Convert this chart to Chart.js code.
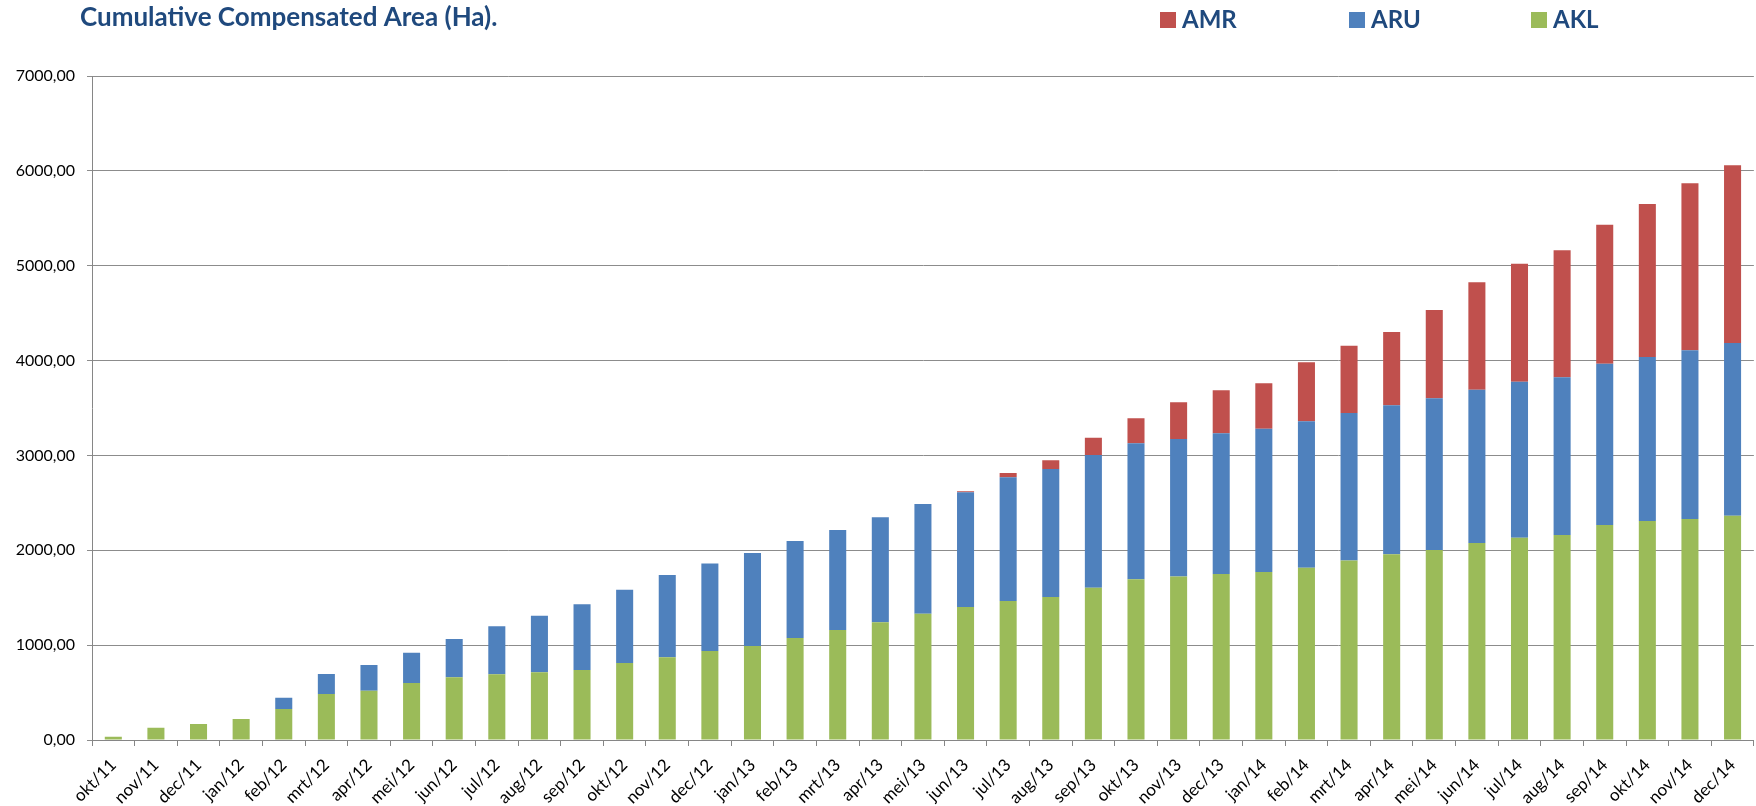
<!DOCTYPE html>
<html>
<head>
<meta charset="utf-8">
<script src="https://cdn.jsdelivr.net/npm/chart.js@4/dist/chart.umd.min.js"></script>
<style>
  html, body { margin: 0; padding: 0; background: #ffffff; }
  #wrap { width: 1756px; height: 806px; }
</style>
</head>
<body>
<div id="wrap"><canvas id="c" width="1756" height="806"></canvas></div>
<script>
const categories = ['okt/11','nov/11','dec/11','jan/12','feb/12','mrt/12','apr/12','mei/12','jun/12','jul/12','aug/12','sep/12','okt/12','nov/12','dec/12','jan/13','feb/13','mrt/13','apr/13','mei/13','jun/13','jul/13','aug/13','sep/13','okt/13','nov/13','dec/13','jan/14','feb/14','mrt/14','apr/14','mei/14','jun/14','jul/14','aug/14','sep/14','okt/14','nov/14','dec/14'];

const akl = [35,130,169,221,327,485,520,601,661,693,714,738,812,872,938,991,1075,1160,1241,1331,1401,1465,1507,1606,1694,1724,1750,1771,1816,1892,1958,2003,2077,2131,2161,2266,2309,2330,2363];
const aru = [0,0,0,0,119,211,271,319,404,506,597,692,773,867,924,980,1023,1054,1107,1157,1210,1304,1350,1398,1434,1449,1483,1511,1544,1555,1570,1599,1616,1646,1662,1701,1729,1778,1822];
const amr = [0,0,0,0,0,0,0,0,0,0,0,0,0,0,0,0,0,0,0,0,11,46,91,183,263,387,453,478,622,708,773,931,1132,1244,1339,1465,1612,1761,1873];

const seriesNames = ['AKL', 'ARU', 'AMR'];
const seriesColors = ['#9BBB59', '#4F81BD', '#C0504D'];
const yTicks = { min: 0, max: 7000, step: 1000 };
const chartTitle = 'Cumulative Compensated Area (Ha).';

const FONT = 'Lato, "Open Sans", sans-serif';
const NAVY = '#1F497D';

const headerPlugin = {
  id: 'header',
  afterDraw(chart) {
    const ctx = chart.ctx;
    ctx.save();
    ctx.fillStyle = NAVY;
    ctx.font = 'bold 26px ' + FONT;
    ctx.textBaseline = 'alphabetic';
    ctx.textAlign = 'left';
    ctx.fillText(chartTitle, 80, 26);
    // legend (reverse dataset order: AMR, ARU, AKL)
    const xs = [1160, 1349, 1531];
    const ds = chart.data.datasets.slice().reverse();
    ds.forEach((d, i) => {
      ctx.fillStyle = d.backgroundColor;
      ctx.fillRect(xs[i], 12, 16, 16);
      ctx.fillStyle = NAVY;
      ctx.font = 'bold 24px ' + FONT;
      ctx.fillText(d.label, xs[i] + 22, 28);
    });
    ctx.restore();
  }
};

new Chart(document.getElementById('c'), {
  type: 'bar',
  data: {
    labels: categories,
    datasets: [
      { label: seriesNames[0], data: akl, backgroundColor: seriesColors[0] },
      { label: seriesNames[1], data: aru, backgroundColor: seriesColors[1] },
      { label: seriesNames[2], data: amr, backgroundColor: seriesColors[2] }
    ]
  },
  options: {
    responsive: false,
    devicePixelRatio: 1,
    animation: false,
    layout: { padding: { top: 76, right: 1, left: 0, bottom: 0 } },
    datasets: { bar: { categoryPercentage: 0.4, barPercentage: 1.0, borderWidth: 0 } },
    plugins: {
      legend: { display: false },
      title: { display: false },
      tooltip: { enabled: false }
    },
    scales: {
      x: {
        stacked: true,
        afterFit(scale) { scale.height = 66; },
        border: { display: true, color: '#868686', width: 1 },
        grid: { display: true, drawOnChartArea: false, drawTicks: true, tickLength: 6, color: '#868686', offset: true },
        ticks: {
          autoSkip: false, minRotation: 45, maxRotation: 45,
          color: '#000000', font: { family: FONT, size: 17 }, padding: 9
        }
      },
      y: {
        stacked: true,
        min: yTicks.min, max: yTicks.max,
        afterFit(scale) { scale.width = 92; },
        border: { display: true, color: '#868686', width: 1 },
        grid: { color: '#8C8C8C', lineWidth: 1, tickLength: 5, drawTicks: true },
        ticks: {
          stepSize: yTicks.step,
          color: '#000000',
          font: { family: FONT, size: 16 },
          padding: 12,
          callback: v => v.toFixed(2).replace('.', ',')
        }
      }
    }
  },
  plugins: [headerPlugin]
});
</script>
</body>
</html>
